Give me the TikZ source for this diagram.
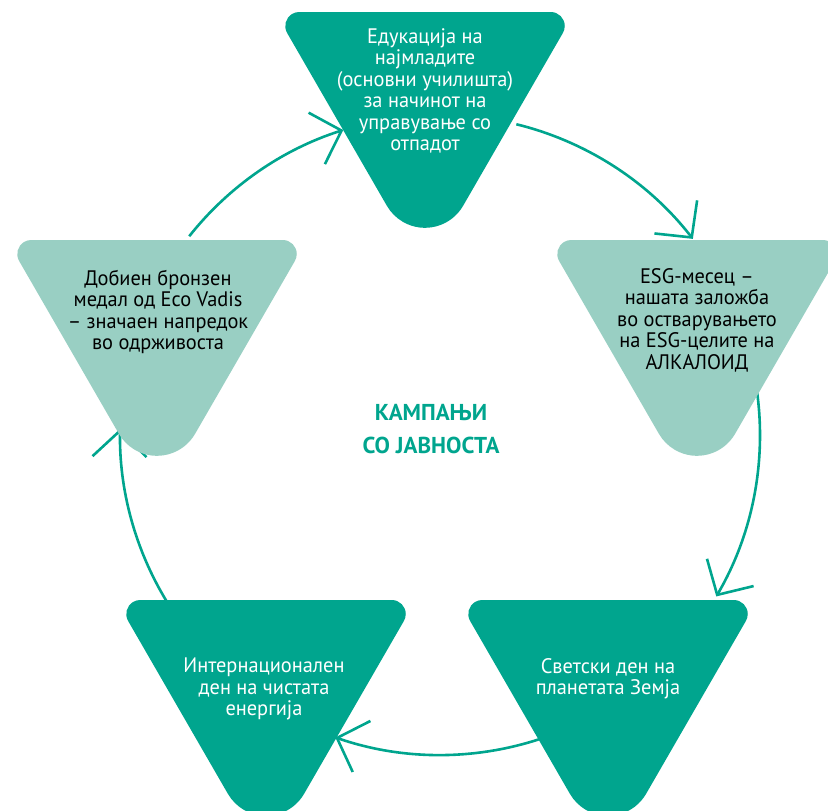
\documentclass[tikz,border=0pt]{standalone}
\usepackage{fontspec}
\setmainfont{PT Sans}[FakeStretch=0.97]
\newfontfamily\ctrfont{PT Sans}
\usetikzlibrary{arrows.meta,calc}
\definecolor{tealdark}{RGB}{0,165,142}
\definecolor{teallight}{RGB}{153,207,195}
\tikzset{
  tri/.pic={
    \fill[pic actions] (-125.75,0) -- (125.75,0)
      arc[start angle=270,end angle=390,radius=14]
      -- (38.1,193.81)
      arc[start angle=30,end angle=150,radius=44]
      -- (-137.87,21)
      arc[start angle=150,end angle=270,radius=14] -- cycle;
  },
  arr/.style={draw=tealdark, line width=2.6pt,
    -{Straight Barb[length=26pt,width=54pt]}},
  lbl/.style={align=center, inner sep=0pt, anchor=north,
    font=\fontsize{21}{21.5}\selectfont},
  ctr/.style={align=center, inner sep=0pt, anchor=north, text=tealdark,
    font=\ctrfont\fontsize{23}{33}\selectfont\bfseries}
}
\begin{document}
\begin{tikzpicture}[x=1pt,y=-1pt]
\useasboundingbox (0,0) rectangle (828,811);
\coordinate (C) at (440,435);
% connectors
\coordinate (a1s) at ($(C)+(-76.2:320)$);
\coordinate (a2s) at ($(C)+(-7.7:320)$);
\coordinate (a3s) at ($(C)+(71.8:320)$);
\coordinate (a4s) at ($(C)+(148.7:320)$);
\coordinate (a5s) at ($(C)+(218.4:320)$);
\draw[arr] (a1s) arc[start angle=-76.2,end angle=-37.8,radius=320];
\draw[arr] (a2s) arc[start angle=-7.7,end angle=30.3,radius=320];
\draw[arr] (a3s) arc[start angle=71.8,end angle=109.1,radius=320];
\draw[arr] (a4s) arc[start angle=148.7,end angle=181.1,radius=320];
\draw[arr] (a5s) arc[start angle=218.4,end angle=252.4,radius=320];
% triangles
\pic[fill=tealdark] at (425,12) {tri};
\pic[fill=teallight] at (697,240) {tri};
\pic[fill=teallight] at (157,240) {tri};
\pic[fill=tealdark] at (608,600) {tri};
\pic[fill=tealdark] at (266,600) {tri};
% texts
\node[lbl,text=white] (t1) at (425,28) {Едукација на\\најмладите\\(основни училишта)\\за начинот на\\управување со\\отпадот};
\node[lbl,text=black] (t2) at (697,268) {ESG-месец –\\нашата заложба\\во остварувањето\\на ESG-целите на\\АЛКАЛОИД};
\node[lbl,text=black] (t5) at (158,270) {Добиен бронзен\\медал од Eco Vadis\\– значаен напредок\\во одрживоста};
\node[lbl,text=white] (t3) at (608,658) {Светски ден на\\планетата Земја};
\node[lbl,text=white] (t4) at (264,658) {Интернационален\\ден на чистата\\енергија};
\node[ctr] (c) at (431,404) {КАМПАЊИ\\СО ЈАВНОСТА};
\end{tikzpicture}
\end{document}
